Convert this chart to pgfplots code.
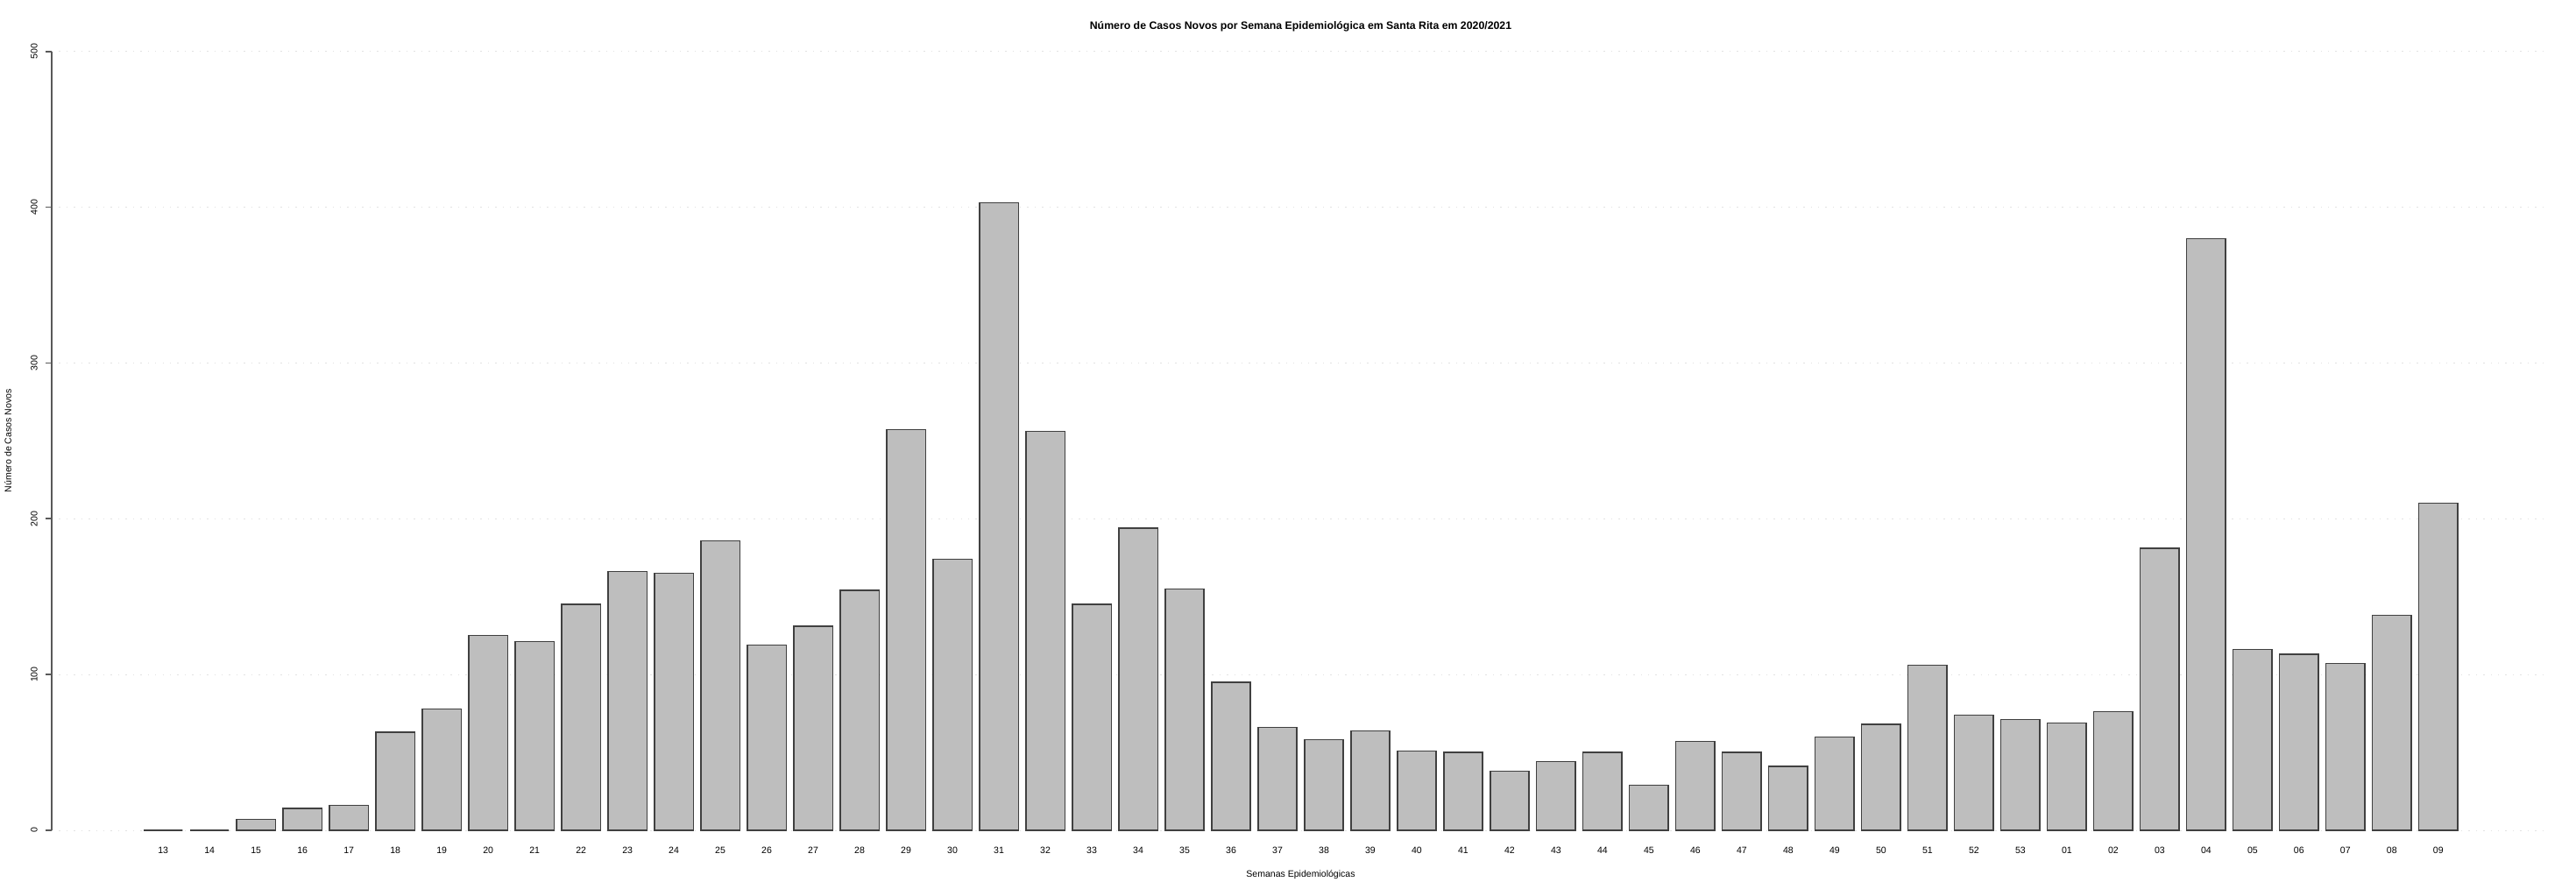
\documentclass[border=0pt]{standalone}
\usepackage{pgfplots}
\pgfplotsset{compat=1.18}
\usepackage{fontspec}
\setmainfont{Liberation Sans}
\setsansfont{Liberation Sans}
\definecolor{barfill}{HTML}{BEBEBE}
\definecolor{baredge}{HTML}{404040}
\definecolor{gridc}{HTML}{E2E2E2}
\begin{document}
\begin{tikzpicture}
\useasboundingbox (0,0) rectangle (294mm,102.3mm);
\begin{axis}[
  at={(5.9mm,7.5mm)}, anchor=south west,
  scale only axis,
  width=285.1mm, height=88.93mm,
  xmin=-2.4, xmax=51.4,
  ymin=0, ymax=500,
  axis y line*=left,
  axis x line*=bottom,
  x axis line style={draw=none},
  y axis line style={draw=black!65, line width=0.18mm},
  xtick=data,
  xticklabels={13,14,15,16,17,18,19,20,21,22,23,24,25,26,27,28,29,30,31,32,33,34,35,36,37,38,39,40,41,42,43,44,45,46,47,48,49,50,51,52,53,01,02,03,04,05,06,07,08,09},
  xtick style={draw=none},
  ytick={0,100,200,300,400,500},
  ytick style={draw=black!65, line width=0.18mm},
  tick align=outside,
  major tick length=0.7mm,
  ymajorgrids,
  grid style={gridc, dotted, line width=0.25pt},
  /pgf/number format/assume math mode=true,
  tick label style={font=\fontsize{3.0}{3.6}\selectfont, text=black},
  xticklabel style={anchor=center, yshift=-1.6mm},
  yticklabel style={rotate=90, anchor=center},
  yticklabel shift=1.3mm,
  every axis title/.style={at={(0.5,1)}, anchor=center, yshift=2.87mm, font=\fontsize{3.5}{4.2}\selectfont\bfseries},
  title={Número de Casos Novos por Semana Epidemiológica em Santa Rita em 2020/2021},
  xlabel={Semanas Epidemiológicas},
  xlabel style={font=\fontsize{3.0}{3.6}\selectfont, at={(axis description cs:0.5,0)}, anchor=center, yshift=-5.1mm},
  ylabel={Número de Casos Novos},
  ylabel style={font=\fontsize{3.0}{3.6}\selectfont, at={(axis description cs:-0.01754,0.5)}, anchor=center},
  ybar, bar width=0.833, bar shift=0pt,
  clip=false,
]
\addplot[fill=barfill, draw=baredge, line width=0.12mm] coordinates {
(0,0) (1,0) (2,7) (3,14) (4,16) (5,63) (6,78) (7,125) (8,121) (9,145)
(10,166) (11,165) (12,186) (13,119) (14,131) (15,154) (16,257) (17,174) (18,403) (19,256)
(20,145) (21,194) (22,155) (23,95) (24,66) (25,58) (26,64) (27,51) (28,50) (29,38)
(30,44) (31,50) (32,29) (33,57) (34,50) (35,41) (36,60) (37,68) (38,106) (39,74)
(40,71) (41,69) (42,76) (43,181) (44,380) (45,116) (46,113) (47,107) (48,138) (49,210)
};
\end{axis}
\end{tikzpicture}
\end{document}
